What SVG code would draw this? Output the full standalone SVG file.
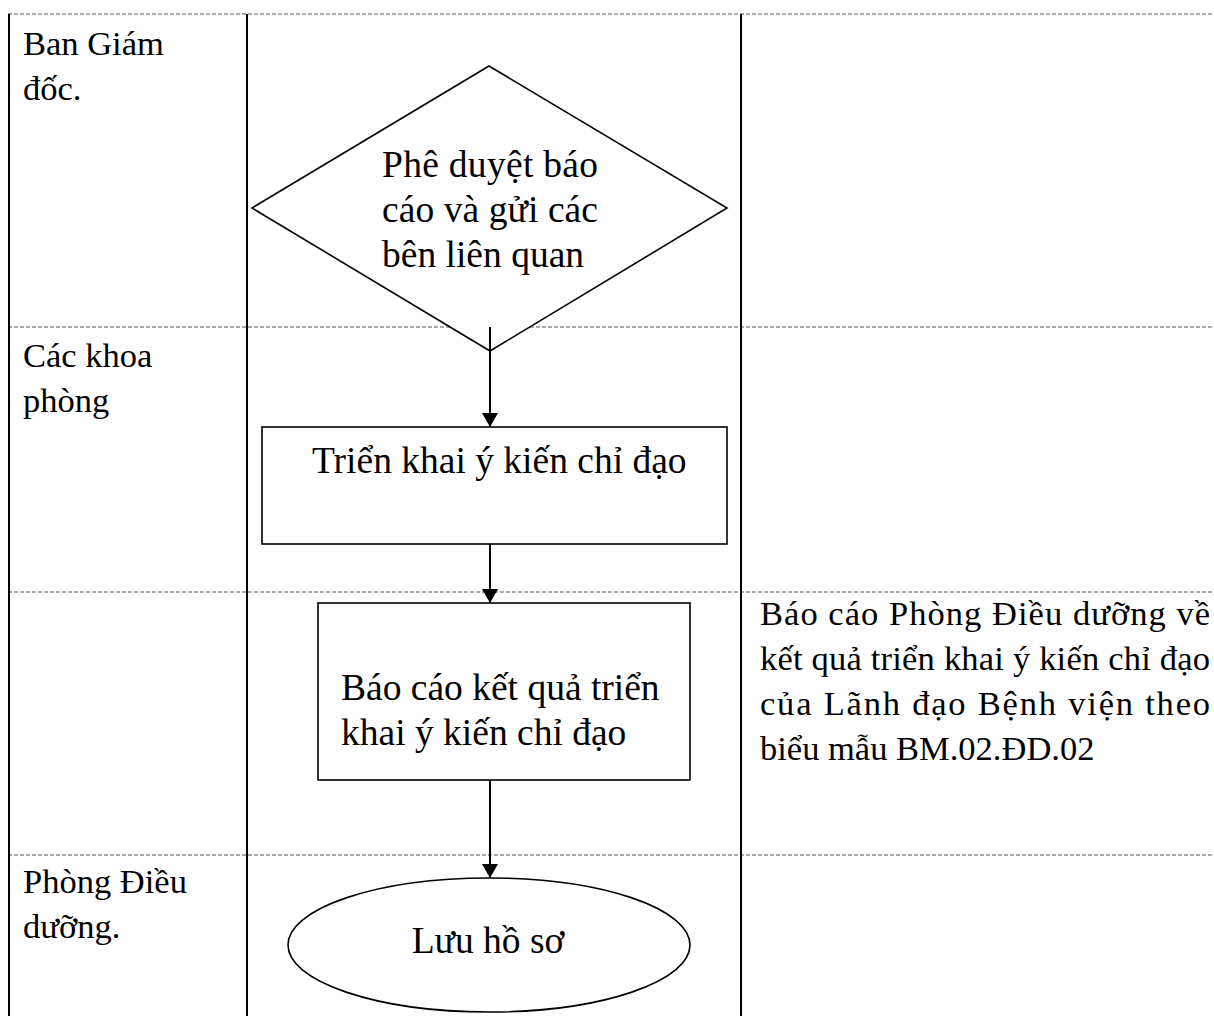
<svg xmlns="http://www.w3.org/2000/svg" width="1214" height="1016" viewBox="0 0 1214 1016">
<style>
  .t { font-family: "Liberation Serif", "Times New Roman", serif; font-size: 34.5px; fill: #000; }
  .n { font-family: "Liberation Serif", "Times New Roman", serif; font-size: 37.5px; fill: #000; }
  .dash { stroke: #555; stroke-width: 1; stroke-dasharray: 4 2; fill: none; }
  .solid { stroke: #000; stroke-width: 2; fill: none; }
  .shape { stroke: #000; stroke-width: 1.6; fill: #fff; }
  .conn { stroke: #000; stroke-width: 2; fill: none; }
</style>
<defs>
  <marker id="arr" viewBox="0 0 14 16" refX="14" refY="8" markerWidth="14" markerHeight="16" markerUnits="userSpaceOnUse" orient="auto">
    <path d="M0,0 L14,8 L0,16 Z" fill="#000"/>
  </marker>
</defs>
<rect width="1214" height="1016" fill="#fff"/>
<g id="grid">
  <line class="dash" x1="8" y1="14" x2="1214" y2="14"/>
  <line class="dash" x1="8" y1="327" x2="1214" y2="327"/>
  <line class="dash" x1="8" y1="592" x2="1214" y2="592"/>
  <line class="dash" x1="8" y1="855" x2="1214" y2="855"/>
  <line class="solid" x1="9" y1="14" x2="9" y2="1016"/>
  <line class="solid" x1="247" y1="14" x2="247" y2="1016"/>
  <line class="solid" x1="741" y1="14" x2="741" y2="1016"/>
</g>
<g id="lanes">
  <text class="t" x="23" y="55">Ban Giám</text>
  <text class="t" x="23" y="100">đốc.</text>
  <text class="t" x="23" y="367">Các khoa</text>
  <text class="t" x="23" y="412">phòng</text>
  <text class="t" x="23" y="893">Phòng Điều</text>
  <text class="t" x="23" y="938">dưỡng.</text>
</g>
<g id="n1">
  <polygon class="shape" points="489,66 727,208 490,351 252,208"/>
  <text class="n" x="382" y="177" textLength="216" lengthAdjust="spacing">Phê duyệt báo</text>
  <text class="n" x="382" y="222" textLength="216" lengthAdjust="spacing">cáo và gửi các</text>
  <text class="n" x="382" y="267">bên liên quan</text>
</g>
<g id="n2">
  <rect class="shape" x="262" y="427" width="465" height="117"/>
  <text class="n" x="312" y="473">Triển khai ý kiến chỉ đạo</text>
</g>
<g id="n3">
  <rect class="shape" x="318" y="603" width="372" height="177"/>
  <text class="n" x="341" y="700">Báo cáo kết quả triển</text>
  <text class="n" x="341" y="745">khai ý kiến chỉ đạo</text>
</g>
<g id="n4">
  <ellipse class="shape" cx="489" cy="945" rx="201" ry="67"/>
  <text class="n" x="488" y="953" text-anchor="middle">Lưu hồ sơ</text>
</g>
<g id="note">
  <text class="t" x="760" y="625" textLength="450" lengthAdjust="spacing">Báo cáo Phòng Điều dưỡng về</text>
  <text class="t" x="760" y="670" textLength="450" lengthAdjust="spacing">kết quả triển khai ý kiến chỉ đạo</text>
  <text class="t" x="760" y="715" textLength="450" lengthAdjust="spacing">của Lãnh đạo Bệnh viện theo</text>
  <text class="t" x="760" y="760">biểu mẫu BM.02.ĐD.02</text>
</g>
<g id="connectors">
  <line class="conn" x1="490" y1="327" x2="490" y2="427" marker-end="url(#arr)"/>
  <line class="conn" x1="490" y1="544" x2="490" y2="603" marker-end="url(#arr)"/>
  <line class="conn" x1="490" y1="780" x2="490" y2="878" marker-end="url(#arr)"/>
</g>
</svg>
